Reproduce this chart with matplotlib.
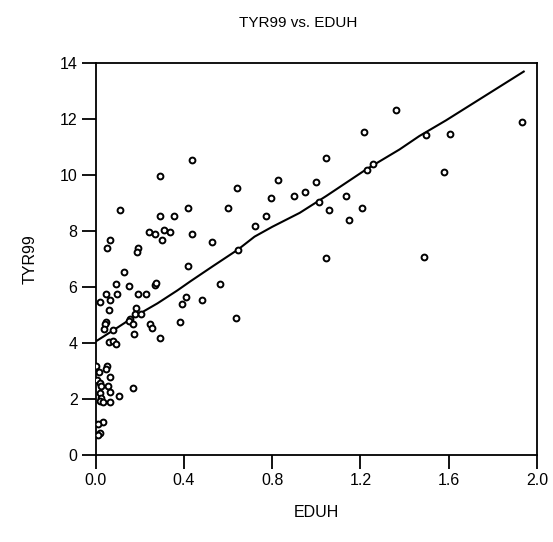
import matplotlib

matplotlib.use("Agg")
import matplotlib.pyplot as plt

# scatter values
eduh = [
    0.291, 0.436, 0.110, 0.290, 0.354, 0.418, 0.240, 0.270, 0.309, 0.336,
    0.300, 0.436, 0.065, 0.051, 0.193, 0.188, 0.128, 0.418, 0.092, 0.151,
    0.268, 0.272, 0.048, 0.098, 0.191, 0.228, 0.019, 0.065, 0.410, 0.390,
    0.060, 0.182, 0.176, 0.205, 0.047, 0.044, 0.157, 0.152, 0.170, 0.244,
    0.256, 0.383, 0.039, 0.077, 0.175, 0.291, 0.062, 0.077, 0.090, 0.000,
    0.052, 0.047, 0.016, 0.065, 0.007, 0.019, 0.056, 0.023, 0.065, 0.170,
    0.020, 0.107, 0.023, 0.020, 0.032, 0.065, 0.034, 0.012, 0.019, 0.012,
    0.640, 0.825, 0.796, 0.897, 0.599, 0.771, 0.722, 0.526, 0.644, 0.562,
    0.481, 0.636, 1.359, 1.214, 1.042, 0.997, 0.947, 1.012, 1.134, 1.057,
    1.205, 1.148, 1.042, 1.228, 1.259, 1.495, 1.608, 1.934, 1.578, 1.490,
]
tyr99 = [
    9.97, 10.54, 8.74, 8.54, 8.54, 8.83, 7.96, 7.90, 8.04, 7.97,
    7.69, 7.90, 7.69, 7.39, 7.40, 7.26, 6.55, 6.76, 6.11, 6.03,
    6.09, 6.14, 5.76, 5.76, 5.76, 5.76, 5.47, 5.54, 5.63, 5.39,
    5.17, 5.27, 5.03, 5.04, 4.76, 4.67, 4.86, 4.78, 4.67, 4.70,
    4.53, 4.76, 4.52, 4.47, 4.33, 4.17, 4.04, 4.09, 3.96, 3.17,
    3.17, 3.08, 2.97, 2.81, 2.67, 2.58, 2.46, 2.46, 2.24, 2.39,
    2.22, 2.10, 2.04, 1.95, 1.89, 1.90, 1.19, 1.10, 0.81, 0.74,
    9.54, 9.83, 9.17, 9.26, 8.83, 8.54, 8.17, 7.61, 7.33, 6.11,
    5.54, 4.90, 12.33, 11.54, 10.61, 9.76, 9.40, 9.04, 9.26, 8.76,
    8.83, 8.40, 7.04, 10.19, 10.40, 11.41, 11.47, 11.90, 10.11, 7.08,
]

# fitted curve
fit_x = [0.0, 0.08, 0.17, 0.28, 0.37, 0.43, 0.53, 0.645, 0.72, 0.80,
         0.925, 1.045, 1.226, 1.377, 1.467, 1.588, 1.94]
fit_y = [4.06, 4.46, 4.92, 5.42, 5.88, 6.21, 6.74, 7.34, 7.80, 8.15,
         8.65, 9.25, 10.20, 10.91, 11.39, 11.95, 13.69]

x_ticks = [0.0, 0.4, 0.8, 1.2, 1.6, 2.0]
y_ticks = [0, 2, 4, 6, 8, 10, 12, 14]

plt.rcParams["font.family"] = ["Liberation Sans", "DejaVu Sans"]

fig = plt.figure(figsize=(5.53, 5.42), dpi=100)
ax = fig.add_axes([0.173, 0.160, 0.798, 0.724])

ax.plot(eduh, tyr99, "o", ms=4.2, mfc="white", mec="black", mew=1.4, zorder=3)
ax.plot(fit_x, fit_y, color="black", lw=1.5, zorder=2)

ax.set_xlim(0, 2.0)
ax.set_ylim(0, 14)
ax.set_xticks(x_ticks)
ax.set_xticklabels([f"{t:.1f}" for t in x_ticks])
ax.set_yticks(y_ticks)
ax.tick_params(direction="out", length=10, width=1.3, labelsize=11.5, pad=3, colors="black")
for s in ax.spines.values():
    s.set_linewidth(1.3)

ax.set_title("TYR99 vs. EDUH", fontsize=11, pad=26, x=0.46)
ax.set_xlabel("EDUH", fontsize=11.5, labelpad=12)
ax.set_ylabel("TYR99", fontsize=11.5, labelpad=16)

fig.savefig("out.png", dpi=100)
